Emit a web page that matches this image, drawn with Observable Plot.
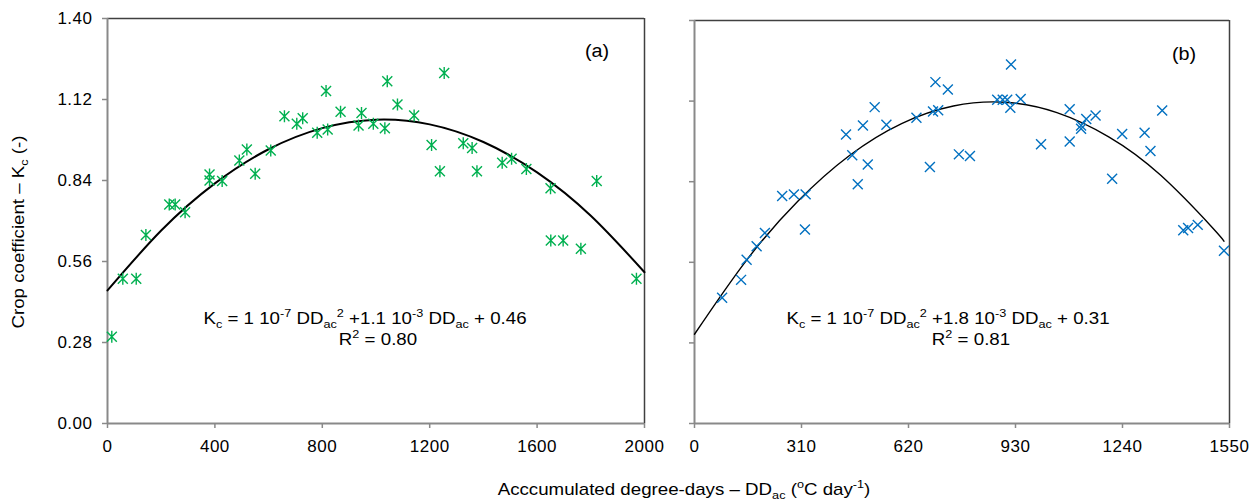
<!DOCTYPE html>
<html>
<head>
<meta charset="utf-8">
<script src="https://cdn.jsdelivr.net/npm/d3@7"></script>
<script src="https://cdn.jsdelivr.net/npm/@observablehq/plot@0.6"></script>
<style>
  html, body { margin: 0; padding: 0; background: #fff; }
  #wrap { position: relative; width: 1259px; height: 504px; overflow: hidden; font-family: "Liberation Sans", Arial, sans-serif; color: #000; background: #fff; }
  #left, #right { position: absolute; top: 0; }
  #left { left: 0; }
  #right { left: 660px; }
  .lbl { position: absolute; white-space: nowrap; font-size: 17px; line-height: 20px; }
  .lbl sub, .lbl sup { font-size: 11.5px; line-height: 0; }
  .ctr { transform: translateX(-50%) scaleX(1.1); }
</style>
</head>
<body>
<div id="wrap">
  <div id="left"></div>
  <div id="right"></div>
  <div class="lbl ctr" style="left:365px; top:309px;">K<sub>c</sub> = 1 10<sup>-7</sup> DD<sub>ac</sub><sup>2</sup> +1.1 10<sup>-3</sup> DD<sub>ac</sub> + 0.46</div>
  <div class="lbl ctr" style="left:378px; top:330px;">R<sup>2</sup> = 0.80</div>
  <div class="lbl ctr" style="left:948px; top:309px;">K<sub>c</sub> = 1 10<sup>-7</sup> DD<sub>ac</sub><sup>2</sup> +1.8 10<sup>-3</sup> DD<sub>ac</sub> + 0.31</div>
  <div class="lbl ctr" style="left:971px; top:330px;">R<sup>2</sup> = 0.81</div>
  <div class="lbl ctr" style="left:597px; top:41px; font-size:18px;">(a)</div>
  <div class="lbl ctr" style="left:1184px; top:44px; font-size:18px;">(b)</div>
  <div class="lbl ctr" style="left:684px; top:480px;">Acccumulated degree-days – DD<sub>ac</sub> (<sup>o</sup>C day<sup>-1</sup>)</div>
  <div class="lbl" style="left:19px; top:232px; transform: translate(-50%,-50%) rotate(-90deg) scaleX(1.1);">Crop coefficient – K<sub>c</sub> (-)</div>
</div>
<script>
// Panel (a) observations
const leftX = [16, 57, 107, 143, 230, 252, 289, 380, 380, 427, 491, 519, 550, 608, 659, 705, 727, 781, 814, 820, 868, 935, 946, 990, 1033, 1042, 1080, 1142, 1207, 1254, 1238, 1325, 1358, 1376, 1470, 1505, 1560, 1650, 1651, 1697, 1763, 1822, 1970];
const leftY = [0.30, 0.50, 0.50, 0.652, 0.757, 0.757, 0.730, 0.861, 0.840, 0.838, 0.909, 0.947, 0.863, 0.944, 1.062, 1.036, 1.055, 1.005, 1.149, 1.016, 1.078, 1.030, 1.073, 1.036, 1.021, 1.183, 1.103, 1.065, 0.963, 1.212, 0.872, 0.969, 0.952, 0.872, 0.901, 0.915, 0.880, 0.813, 0.633, 0.633, 0.604, 0.838, 0.50];
// Panel (a) trend line
const leftCurveX = [0, 200, 400, 600, 800, 1000, 1200, 1400, 1600, 1800, 2000];
const leftCurveY = [0.460, 0.667, 0.830, 0.948, 1.021, 1.050, 1.034, 0.973, 0.868, 0.718, 0.523];

// Panel (b) observations
const rightX = [80, 135, 151, 180, 204, 254, 288, 322, 320, 439, 457, 473, 488, 502, 522, 556, 643, 682, 691, 698, 706, 734, 766, 798, 877, 893, 906, 915, 917, 945, 1004, 1087, 1087, 1120, 1120, 1135, 1162, 1210, 1239, 1304, 1321, 1355, 1416, 1430, 1458, 1534];
const rightY = [0.437, 0.499, 0.569, 0.616, 0.662, 0.790, 0.796, 0.796, 0.674, 1.004, 0.932, 0.831, 1.035, 0.900, 1.099, 1.038, 1.062, 0.891, 1.084, 1.186, 1.088, 1.160, 0.935, 0.929, 1.125, 1.125, 1.125, 1.097, 1.247, 1.127, 0.970, 1.092, 0.980, 1.024, 1.035, 1.058, 1.070, 0.850, 1.006, 1.010, 0.947, 1.087, 0.671, 0.679, 0.690, 0.600];
// Panel (b) trend line
const rightCurveX = [0, 150, 300, 450, 600, 750, 900, 1050, 1200, 1350, 1500, 1534];
const rightCurveY = [0.310, 0.566, 0.773, 0.932, 1.042, 1.103, 1.116, 1.080, 0.996, 0.863, 0.681, 0.633];

// Tick values
const yTicks = [0, 0.28, 0.56, 0.84, 1.12, 1.40];
const xTicksLeft = [0, 400, 800, 1200, 1600, 2000];
const xTicksRight = [0, 310, 620, 930, 1240, 1550];

const leftPts = leftX.map((x, i) => ({x, y: leftY[i]}));
const rightPts = rightX.map((x, i) => ({x, y: rightY[i]}));
const leftCurve = leftCurveX.map((x, i) => ({x, y: leftCurveY[i]}));
const rightCurve = rightCurveX.map((x, i) => ({x, y: rightCurveY[i]}));

// Excel-like star marker: an X with a vertical bar
const starSymbol = {
  draw(ctx, size) {
    const r = Math.sqrt(size / Math.PI);
    ctx.moveTo(-r, -r); ctx.lineTo(r, r);
    ctx.moveTo(-r, r); ctx.lineTo(r, -r);
    ctx.moveTo(0, -r * 1.2); ctx.lineTo(0, r * 1.2);
  }
};

const axisGrey = "#898989";
const frameDark = "#404040";
const font = '"Liberation Sans", Arial, sans-serif';

function panel({width, marginLeft, marginRight, marginTop, xDomain, xTicks, showYLabels, pts, curve, color, symbol, r, curveWidth}) {
  return Plot.plot({
    width, height: 460,
    marginLeft, marginRight, marginTop, marginBottom: 37,
    style: {fontFamily: font, fontSize: "17px", color: "#000", background: "transparent", letterSpacing: "0.5px", overflow: "visible"},
    x: {domain: xDomain, ticks: xTicks, label: null},
    y: {domain: [0, 1.4], ticks: yTicks, label: null},
    marks: [
      Plot.ruleY([1.4], {stroke: frameDark, strokeWidth: 1.5}),
      Plot.ruleX([xDomain[1]], {stroke: frameDark, strokeWidth: 1.5}),
      Plot.ruleY([0], {stroke: axisGrey, strokeWidth: 2}),
      Plot.ruleX([0], {stroke: axisGrey, strokeWidth: 2}),
      Plot.axisX({ticks: xTicks, tickSize: 5, tickPadding: 11, stroke: axisGrey, strokeWidth: 1.5, tickFormat: d => String(d), fontSize: 17, label: null}),
      Plot.axisY({ticks: yTicks, tickSize: 5, tickPadding: 10, stroke: axisGrey, strokeWidth: 1.5, tickFormat: showYLabels ? (d => d.toFixed(2)) : () => "", fontSize: 17, label: null}),
      Plot.line(curve, {x: "x", y: "y", curve: "natural", stroke: "#000", strokeWidth: curveWidth}),
      Plot.dot(pts, {x: "x", y: "y", symbol, r, fill: "none", stroke: color, strokeWidth: 1.4})
    ]
  });
}

document.getElementById("left").appendChild(panel({
  width: 680, marginLeft: 107, marginRight: 36, marginTop: 18,
  xDomain: [0, 2000], xTicks: xTicksLeft, showYLabels: true,
  pts: leftPts, curve: leftCurve, color: "#00B050", symbol: starSymbol, r: 5, curveWidth: 2
}));
document.getElementById("right").appendChild(panel({
  width: 599, marginLeft: 34, marginRight: 30, marginTop: 20,
  xDomain: [0, 1550], xTicks: xTicksRight, showYLabels: false,
  pts: rightPts, curve: rightCurve, color: "#0070C0", symbol: "times", r: 4.6, curveWidth: 1.4
}));
</script>
</body>
</html>
